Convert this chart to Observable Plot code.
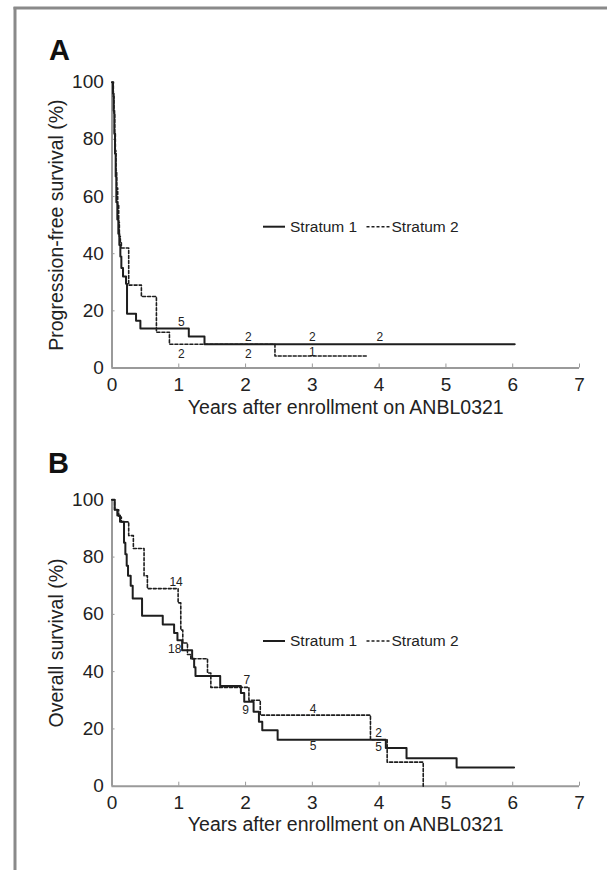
<!DOCTYPE html>
<html><head><meta charset="utf-8">
<script src="https://cdn.jsdelivr.net/npm/d3@7"></script>
<script src="https://cdn.jsdelivr.net/npm/@observablehq/plot@0.6"></script>
<style>
html,body{margin:0;padding:0;background:#fff;}
#root{position:relative;width:607px;height:870px;overflow:hidden;font-family:"Liberation Sans",Arial,Helvetica,sans-serif;}
#root > svg{position:absolute;left:0;}
</style></head><body><div id="root"></div>
<script>
// ---------- data ----------
const xTicks = [0, 1, 2, 3, 4, 5, 6, 7];
const yTicks = [0, 20, 40, 60, 80, 100];
const seriesNames = ["Stratum 1", "Stratum 2"];
const xLabel = "Years after enrollment on ANBL0321";
const panelLetters = ["A", "B"];
const yLabels = ["Progression-free survival (%)", "Overall survival (%)"];

// Panel A: progression-free survival (Kaplan-Meier steps)
const pfsS1Years = [0, 0.015, 0.025, 0.035, 0.045, 0.055, 0.065, 0.08, 0.095, 0.11, 0.125, 0.14, 0.165, 0.21, 0.225, 0.36, 0.425, 1.15, 1.385, 6.03];
const pfsS1Pct   = [100, 96, 90, 82, 75, 67, 58, 52, 47, 43, 39, 35, 32, 29.5, 19, 16.5, 13.8, 11, 8.3, 8.3];
const pfsS2Years = [0, 0.02, 0.03, 0.04, 0.05, 0.06, 0.07, 0.085, 0.1, 0.11, 0.125, 0.14, 0.25, 0.44, 0.665, 0.86, 2.44, 3.83];
const pfsS2Pct   = [100, 95, 89, 82, 76, 69, 63, 57, 51, 46, 44, 42, 29, 25, 12.5, 8.3, 4.2, 4.2];
// numbers at risk, Panel A
const pfsRiskText  = ["5", "2", "2", "2", "2", "2", "1"];
const pfsRiskYears = [1.04, 2.04, 3.0, 4.01, 1.04, 2.04, 3.0];
const pfsRiskPct   = [15.9, 10.8, 10.8, 10.8, 5.0, 5.0, 5.4];

// Panel B: overall survival
const osS1Years = [0, 0.04, 0.08, 0.12, 0.18, 0.2, 0.22, 0.24, 0.28, 0.31, 0.45, 0.76, 0.93, 0.98, 1.05, 1.2, 1.23, 1.25, 1.62, 1.93, 1.98, 2.12, 2.2, 2.25, 2.48, 4.1, 4.41, 5.16, 6.02];
const osS1Pct   = [100, 96.5, 94.5, 92.3, 85, 81, 77, 73.5, 70, 65.5, 59.5, 56.5, 53.5, 51, 47.5, 44.5, 41.5, 38.5, 35, 32.5, 29.5, 26, 22.5, 19.5, 16.2, 13.3, 9.8, 6.5, 6.5];
const osS2Years = [0, 0.04, 0.1, 0.14, 0.25, 0.32, 0.48, 0.53, 0.99, 1.03, 1.06, 1.13, 1.18, 1.43, 1.48, 2.05, 2.22, 3.87, 4.12, 4.66];
const osS2Pct   = [100, 96.5, 94, 92.3, 87.5, 83, 73.5, 69, 64, 54.5, 50, 46, 44.5, 39.5, 34.5, 30, 24.8, 16.2, 8.4, 0];
// numbers at risk, Panel B
const osRiskText  = ["14", "18", "7", "9", "4", "5", "2", "5"];
const osRiskYears = [0.96, 0.94, 2.02, 2.0, 3.01, 3.01, 3.99, 3.99];
const osRiskPct   = [71.2, 48.0, 37.2, 26.6, 27.0, 13.9, 18.5, 13.6];

// ---------- drawing ----------
const FONT = '"Liberation Sans", Arial, Helvetica, sans-serif';
const INK = "#1e1e1e";
const AXIS = "#9a9a9a";
const root = document.getElementById("root");

function zip(ts, vs) { return ts.map((t, i) => ({t, v: vs[i]})); }

function panel({s1, s2, risk, yLabel, top, height, marginTop, marginBottom, labelDy}) {
  const svg = Plot.plot({
    width: 607, height,
    marginLeft: 111.5, marginRight: 28, marginTop, marginBottom,
    x: {domain: [0, 7]},
    y: {domain: [0, 100]},
    style: {fontFamily: FONT, color: "#222", background: "transparent", overflow: "visible"},
    marks: [
      Plot.axisX(xTicks, {tickSize: -4, tickPadding: 13.5, fontSize: 19, stroke: AXIS, fill: "#222", label: null}),
      Plot.axisY(yTicks, {tickSize: -3, tickPadding: 11.2, fontSize: 19, stroke: AXIS, fill: "#222", label: null}),
      Plot.ruleY([0], {stroke: AXIS, strokeWidth: 2}),
      Plot.ruleX([0], {stroke: AXIS, strokeWidth: 2}),
      Plot.line(s2, {x: "t", y: "v", curve: "step-after", stroke: INK, strokeWidth: 1.6, strokeDasharray: "3,2"}),
      Plot.line(s1, {x: "t", y: "v", curve: "step-after", stroke: INK, strokeWidth: 2}),
      Plot.text(risk, {x: "t", y: "v", text: "s", fontSize: 12, fill: "#222"}),
      Plot.text([xLabel], {frameAnchor: "bottom", dy: labelDy, fontSize: 19.5, fill: "#222"}),
      Plot.text([yLabel], {frameAnchor: "left", textAnchor: "middle", rotate: -90, dx: -55, fontSize: 19.5, fill: "#222"})
    ]
  });
  svg.style.top = top + "px";
  root.appendChild(svg);
}

panel({
  s1: zip(pfsS1Years, pfsS1Pct), s2: zip(pfsS2Years, pfsS2Pct),
  risk: pfsRiskText.map((s, i) => ({s, t: pfsRiskYears[i], v: pfsRiskPct[i]})),
  yLabel: yLabels[0], top: 30, height: 410, marginTop: 51.7, marginBottom: 72.5, labelDy: 46
});
panel({
  s1: zip(osS1Years, osS1Pct), s2: zip(osS2Years, osS2Pct),
  risk: osRiskText.map((s, i) => ({s, t: osRiskYears[i], v: osRiskPct[i]})),
  yLabel: yLabels[1], top: 450, height: 420, marginTop: 49.3, marginBottom: 84.3, labelDy: 45
});

// ---------- decorations: frame, panel letters, legends ----------
const NS = "http://www.w3.org/2000/svg";
const deco = document.createElementNS(NS, "svg");
deco.setAttribute("width", 607); deco.setAttribute("height", 870);
deco.style.top = "0px"; deco.style.pointerEvents = "none";
function el(name, attrs, text) {
  const e = document.createElementNS(NS, name);
  for (const k in attrs) e.setAttribute(k, attrs[k]);
  if (text != null) e.textContent = text;
  deco.appendChild(e); return e;
}
el("line", {x1: 15, y1: 7, x2: 15, y2: 870, stroke: "#8a8a8a", "stroke-width": 3});
el("line", {x1: 13.5, y1: 8, x2: 607, y2: 8, stroke: "#8a8a8a", "stroke-width": 3});
[[49, 60], [48, 473]].forEach(([x, y], i) =>
  el("text", {x, y, "font-family": FONT, "font-size": 29, "font-weight": "bold", fill: "#111"}, panelLetters[i]));
[226.7, 641].forEach(cy => {
  el("line", {x1: 263, x2: 285, y1: cy, y2: cy, stroke: INK, "stroke-width": 2});
  el("text", {x: 290, y: cy, dy: "0.35em", "font-family": FONT, "font-size": 15.5, fill: "#222"}, seriesNames[0]);
  el("line", {x1: 366.5, x2: 390, y1: cy, y2: cy, stroke: INK, "stroke-width": 1.6, "stroke-dasharray": "3,2"});
  el("text", {x: 391.5, y: cy, dy: "0.35em", "font-family": FONT, "font-size": 15.5, fill: "#222"}, seriesNames[1]);
});
root.appendChild(deco);
</script></body></html>
